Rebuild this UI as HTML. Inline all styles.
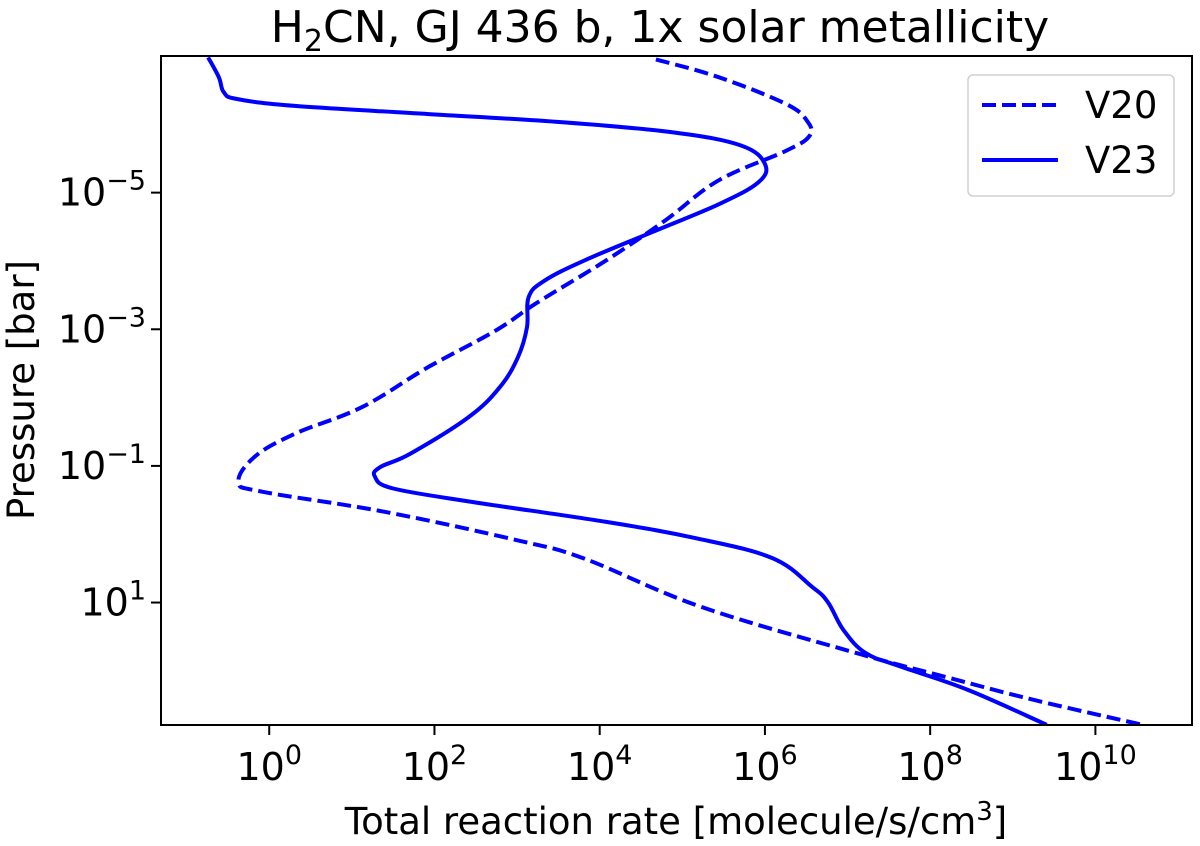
<!DOCTYPE html>
<html><head><meta charset="utf-8"><style>
html,body{margin:0;padding:0;background:#fff;}
svg{display:block;font-family:"DejaVu Sans","Liberation Sans",sans-serif;}
</style></head><body>
<svg id="chart" width="1200" height="846" viewBox="0 0 1200 846" xmlns="http://www.w3.org/2000/svg">
<text x="660" y="42" font-size="44" text-anchor="middle">H<tspan font-size="30" dy="9">2</tspan><tspan dy="-9">CN, GJ 436 b, 1x solar metallicity</tspan></text>
<text x="676" y="834" font-size="37" text-anchor="middle">Total reaction rate [molecule/s/cm<tspan font-size="26" dy="-14">3</tspan><tspan dy="14">]</tspan></text>
<text transform="translate(34,390) rotate(-90)" font-size="37" text-anchor="middle">Pressure [bar]</text>
<g id="plot"></g>
<g>
<rect x="968" y="75" width="206" height="121" rx="5" fill="#fff" stroke="#d0d0d0" stroke-width="1.5"/>
<line x1="982" y1="105" x2="1058" y2="105" stroke="#0000ff" stroke-width="4" stroke-dasharray="14,6"/>
<text x="1085" y="118" font-size="37">V20</text>
<line x1="982" y1="160" x2="1058" y2="160" stroke="#0000ff" stroke-width="4"/>
<text x="1085" y="173" font-size="37">V23</text>
</g>
</svg>
<script>
const xTickExps = [0, 2, 4, 6, 8, 10];
const yTickExps = [-5, -3, -1, 1];
// log10(rate), log10(pressure)
const v20LogX = [4.68,5.44,6.25,6.51,6.54,6.25,5.44,4.79,4.08,3.23,2.74,1.93,1.12,0.31,-0.18,-0.37,-0.07,1.39,3.01,3.82,5.22,7.11,8.19,9.27,10.57];
const v20LogP = [-6.95,-6.69,-6.30,-6.05,-5.83,-5.61,-5.18,-4.59,-4.01,-3.38,-2.98,-2.45,-1.86,-1.47,-1.13,-0.76,-0.62,-0.33,0.09,0.36,1.06,1.74,2.09,2.43,2.79];
const v23LogX = [-0.74,-0.61,-0.55,-0.39,0.31,1.93,3.55,4.90,5.71,6.00,5.92,5.44,4.63,3.82,3.33,3.14,3.12,3.01,2.79,2.41,1.71,1.34,1.28,1.50,2.47,4.08,5.17,6.09,6.57,6.76,6.95,7.22,7.65,8.46,9.41];
const v23LogP = [-6.98,-6.69,-6.47,-6.37,-6.27,-6.15,-6.03,-5.88,-5.69,-5.42,-5.15,-4.83,-4.42,-4.01,-3.71,-3.47,-3.03,-2.59,-2.15,-1.71,-1.18,-0.98,-0.84,-0.67,-0.47,-0.18,0.06,0.35,0.77,0.99,1.40,1.74,1.94,2.28,2.79];

const L=161,R=1192,T=56,B=725;
const xMin=-1.31, xMax=(R-268.3)/82.7;
const yMin=-7.0, yMax=(B-192)/68.4-5;
const sx=v=>L+(v-xMin)/(xMax-xMin)*(R-L);
const sy=v=>T+(v-yMin)/(yMax-yMin)*(B-T);
const NS="http://www.w3.org/2000/svg";
const g=document.getElementById('plot');
function mk(t,a){const e=document.createElementNS(NS,t);for(const k in a)e.setAttribute(k,a[k]);return e;}

const clip=mk('clipPath',{id:'pc'});clip.appendChild(mk('rect',{x:L,y:T,width:R-L,height:B-T}));g.appendChild(clip);

function path(xs,ys){
  const P=xs.map((v,i)=>[sx(v),sy(ys[i])]);
  let d='M'+P[0][0].toFixed(1)+','+P[0][1].toFixed(1);
  const k=0.18;
  for(let i=0;i<P.length-1;i++){
    const p0=P[Math.max(0,i-1)],p1=P[i],p2=P[i+1],p3=P[Math.min(P.length-1,i+2)];
    const c1=[p1[0]+(p2[0]-p0[0])*k,p1[1]+(p2[1]-p0[1])*k];
    const c2=[p2[0]-(p3[0]-p1[0])*k,p2[1]-(p3[1]-p1[1])*k];
    d+='C'+c1[0].toFixed(1)+','+c1[1].toFixed(1)+' '+c2[0].toFixed(1)+','+c2[1].toFixed(1)+' '+p2[0].toFixed(1)+','+p2[1].toFixed(1);
  }
  return d;
}
const p20=mk('path',{d:path(v20LogX,v20LogP),fill:'none',stroke:'#0000ff','stroke-width':4,'stroke-dasharray':'14,6','stroke-linejoin':'round','clip-path':'url(#pc)'});


g.appendChild(p20);
const p23=mk('path',{d:path(v23LogX,v23LogP),fill:'none',stroke:'#0000ff','stroke-width':4,'stroke-linejoin':'round','clip-path':'url(#pc)'});


g.appendChild(p23);

const frame=mk('rect',{x:L,y:T,width:R-L,height:B-T,fill:'none',stroke:'#000','stroke-width':2});


g.appendChild(frame);

xTickExps.forEach(e=>{
  const x=sx(e);
  const t=mk('line',{x1:x,y1:B,x2:x,y2:B+10,stroke:'#000','stroke-width':2});
  
  
  g.appendChild(t);
  const tx=mk('text',{x:x,y:780,'font-size':38,'text-anchor':'middle'});
  
  
  tx.innerHTML='10<tspan font-size="27" dy="-16">'+e+'</tspan>';
  g.appendChild(tx);
});
yTickExps.forEach(e=>{
  const y=sy(e);
  const t=mk('line',{x1:L-10,y1:y,x2:L,y2:y,stroke:'#000','stroke-width':2});
  
  
  g.appendChild(t);
  const tx=mk('text',{x:146,y:y+13,'font-size':38,'text-anchor':'end'});
  
  
  tx.innerHTML='10<tspan font-size="27" dy="-16">'+(e<0?'\u2212'+(-e):e)+'</tspan>';
  g.appendChild(tx);
});
</script>
</body></html>
